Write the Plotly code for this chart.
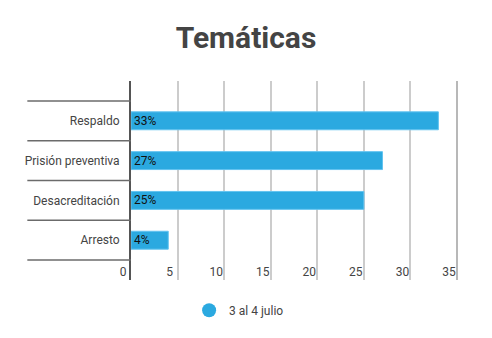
import plotly.graph_objects as go

categories = ["Respaldo", "Prisión preventiva", "Desacreditación", "Arresto"]
values = [33, 27, 25, 4]
labels = ["33%", "27%", "25%", "4%"]
series_name = "3 al 4 julio"
x_ticks = [0, 5, 10, 15, 20, 25, 30, 35]

BLUE = "#2ba9e0"
FONT = "Roboto"

fig = go.Figure()
fig.add_trace(go.Bar(
    y=categories, x=values, orientation="h",
    text=labels, textposition="inside", insidetextanchor="start",
    constraintext="none",
    textfont=dict(family=FONT, size=12, color="#111"),
    marker=dict(color=BLUE, line=dict(color="#62c3f0", width=1)),
    width=0.45, showlegend=False, cliponaxis=False,
))
fig.add_trace(go.Scatter(
    x=[None], y=[None], mode="markers", name=series_name,
    marker=dict(symbol="circle", size=14, color=BLUE),
))

shapes = []
for i in range(len(categories) + 1):
    shapes.append(dict(type="line", xref="paper", yref="y",
                       x0=-0.318, x1=0, y0=i - 0.5, y1=i - 0.5,
                       line=dict(color="#6b6b6b", width=1.5), layer="above"))
shapes.append(dict(type="line", xref="paper", yref="paper", x0=1, x1=1, y0=0, y1=1,
                   line=dict(color="#a0a0a0", width=1.5)))

fig.update_layout(
    width=492, height=338,
    margin=dict(l=131, r=35, t=81, b=58),
    paper_bgcolor="white", plot_bgcolor="white",
    title=dict(text="<b>Temáticas</b>", x=0.5, xanchor="center", y=0.89, yanchor="middle",
               font=dict(family=FONT, size=30, color="#444444")),
    font=dict(family=FONT, size=12, color="#444444"),
    xaxis=dict(range=[0, 35], tickvals=x_ticks, ticktext=[str(t) for t in x_ticks],
               showgrid=True, gridcolor="#cccccc", gridwidth=1.5,
               zeroline=False, showline=False, ticks="",
               ticklabelposition="outside", ticklabelstandoff=-17,
               ticklabelshift=-8,
               tickfont=dict(family=FONT, size=12, color="#444444")),
    yaxis=dict(categoryorder="array", categoryarray=categories[::-1],
               range=[-1, 4], showgrid=False, zeroline=False,
               showline=True, linecolor="#555555", linewidth=2, ticks="",
               ticklabelstandoff=7,
               tickfont=dict(family=FONT, size=12, color="#444444")),
    shapes=shapes,
    legend=dict(orientation="h", xref="container", x=0.486, xanchor="center",
                yref="container", y=0.082, yanchor="middle",
                font=dict(family=FONT, size=12, color="#444444")),
    bargap=0.55,
)

fig.write_html("out.html")
